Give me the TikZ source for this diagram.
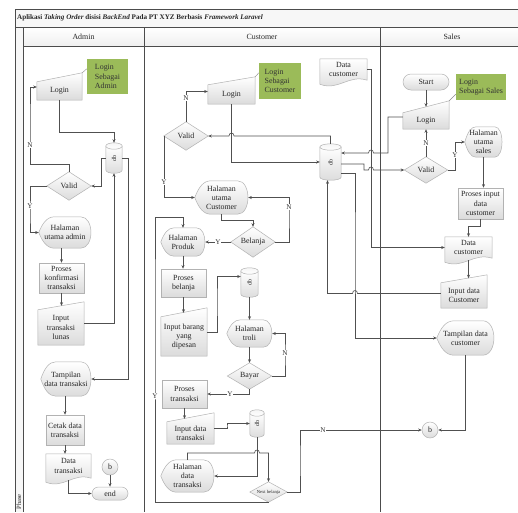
\documentclass[tikz,border=0pt]{standalone}
\usepackage{fontspec}
\usepackage{graphicx}
\setmainfont{Liberation Serif}
\usetikzlibrary{arrows.meta,calc}
\definecolor{notegreen}{HTML}{9BBB59}
\definecolor{linegray}{HTML}{505050}
\pgfdeclarelayer{lanes}
\pgfdeclarelayer{shapes}
\pgfsetlayers{lanes,shapes,main}

\newcommand\dbfont{\fontsize{6}{6}\selectfont}

% flowchart outlines drawn around an already placed (invisible) node
\newcommand\mkmanual[2]{%
  \path[shp] (#1.south west) -- (#1.north west) -- ($(#1.north east)+(0,-#2)$) -- (#1.south east) -- cycle;}
\newcommand\mkdiamond[1]{%
  \path[shp] (#1.west) -- (#1.north) -- (#1.east) -- (#1.south) -- cycle;}
\newcommand\mkdisplay[1]{%
  \path[shp] let \p1=(#1.north west), \p2=(#1.south east), \n1={\x2-\x1}, \n2={\y1-\y2} in
    (\x1,{0.5*(\y1+\y2)})
    .. controls ({\x1+0.07*\n1},{\y1-0.2*\n2}) and ({\x1+0.16*\n1},\y1) .. ({\x1+0.3*\n1},\y1)
    -- ({\x2-0.2*\n1},\y1)
    .. controls ({\x2+0.06*\n1},\y1) and ({\x2+0.06*\n1},\y2) .. ({\x2-0.2*\n1},\y2)
    -- ({\x1+0.3*\n1},\y2)
    .. controls ({\x1+0.16*\n1},\y2) and ({\x1+0.07*\n1},{\y2+0.2*\n2}) .. (\x1,{0.5*(\y1+\y2)})
    -- cycle;}
\newcommand\mkdoc[1]{%
  \path[shp] let \p1=(#1.north west), \p2=(#1.south east), \n1={\x2-\x1} in
    (\x1,\y1) -- (\x2,\y1) -- (\x2,\y2)
    .. controls ({\x2-0.4*\n1},{\y2+6}) and ({\x1+0.4*\n1},{\y2-11}) .. (\x1,{\y2-4})
    -- cycle;}
\newcommand\mkdb[1]{%
  \path[shp] let \p1=(#1.north west), \p2=(#1.south east) in
    (\x1,{\y1-3.2}) -- (\x1,{\y2+3.2})
    .. controls (\x1,{\y2-1.07}) and (\x2,{\y2-1.07}) .. (\x2,{\y2+3.2})
    -- (\x2,{\y1-3.2}) -- cycle;
  \path[shp, top color=black!4, bottom color=white] let \p1=(#1.north west), \p2=(#1.south east) in
    ({0.5*(\x1+\x2)},{\y1-3.2}) ellipse [x radius={0.5*(\x2-\x1)}, y radius=3.2pt];}

\begin{document}
\begin{tikzpicture}[x=1pt,y=-1pt,
  lane/.style={draw=black!70, line width=0.65pt},
  shp/.style={draw=black!30, line width=0.5pt, top color=white, bottom color=black!14},
  txt/.style={font=\fontsize{7.9}{9.2}\selectfont, text=black!85, align=center, inner sep=0pt},
  sz/.style 2 args={minimum width=#1pt, minimum height=#2pt},
  plain/.style={txt, rectangle, draw=none},
  rectbox/.style={txt, rectangle, shp},
  termbox/.style={txt, rectangle, shp, rounded corners=6.5pt},
  circbox/.style={txt, circle, shp, minimum size=16pt},
  note/.style={txt, rectangle, fill=notegreen, align=left, text=black!80},
  arr/.style={draw=linegray, line width=0.6pt, -{Stealth[length=3.6pt,width=3pt]}},
  link/.style={draw=black!45, line width=0.4pt},
  lbl/.style={font=\fontsize{7.2}{8}\selectfont, fill=white, inner sep=0.6pt, text=black!80},
  hdr/.style={font=\fontsize{7.9}{9}\selectfont, text=black!85, inner sep=0pt}
]
\useasboundingbox (0,0) rectangle (518,512);

% ---------- swimlane frame ----------
\begin{pgfonlayer}{lanes}
  \path[fill=white] (0,0) rectangle (518,512);
  \path[fill=black!3] (15,9) rectangle (518,27);
  \path[top color=white, bottom color=black!6] (23,27) rectangle (518,46);
  \path[fill=black!3] (15,27) rectangle (23,512);
  \draw[lane] (518,9) -- (15,9) -- (15,512);
  \draw[lane] (15,27) -- (518,27);
  \draw[lane] (23,46) -- (518,46);
  \draw[lane] (23,27) -- (23,512);
  \draw[lane] (144,27) -- (144,512);
  \draw[lane] (380,27) -- (380,512);
  \node[hdr, anchor=west, font=\bfseries\fontsize{7.1}{9}\selectfont] (title) at (17,18)
    {Aplikasi \textit{Taking Order} disisi \textit{BackEnd} Pada PT XYZ Berbasis \textit{Framework Laravel}};
  \node[hdr] (hAdmin) at (83.5,36.5) {Admin};
  \node[hdr] (hCust) at (262,36.5) {Customer};
  \node[hdr] (hSales) at (452,36.5) {Sales};
  \node[hdr, rotate=90, font=\fontsize{6.5}{7}\selectfont] (phase) at (19,502) {Phase};
\end{pgfonlayer}

% ---------- Admin ----------
\node[note, sz={41}{35}] (gA) at (107.5,76.5) {Login\\Sebagai\\Admin};
\node[plain, sz={45}{18}] (loginA) at (59.5,91) {Login};
\node[plain, sz={16}{30}] (dbA) at (114,158) {\rotatebox{90}{\dbfont db}};
\node[plain, sz={44}{28}] (validA) at (69,186) {Valid};
\node[plain, sz={52}{31}] (hua) at (65,232.5) {Halaman\\utama admin};
\node[rectbox, sz={45}{30}] (pkt) at (61.5,278) {Proses\\konfirmasi\\transaksi};
\node[plain, sz={46}{35}] (itl) at (61,327.5) {Input\\transaksi\\lunas};
\node[plain, sz={50}{34}] (tdt) at (66,379) {Tampilan\\data transaksi};
\node[rectbox, sz={38}{30}] (cdt) at (65,430) {Cetak data\\transaksi};
\node[plain, sz={45}{24}] (dt) at (68.5,466) {Data\\transaksi};
\node[circbox] (bA) at (110,467) {b};
\node[termbox, sz={36}{13}] (endA) at (110,493.5) {end};

% ---------- Customer ----------
\node[note, sz={42}{36}] (gC) at (280,81) {Login\\Sebagai\\Customer};
\node[plain, sz={47}{19}] (loginC) at (231.5,94.5) {Login};
\node[plain, sz={47}{21}] (dcT) at (343.5,69.5) {Data\\customer};
\node[plain, sz={44}{28}] (validC) at (186,136) {Valid};
\node[plain, sz={21}{36}] (dbC) at (330.5,162) {\rotatebox{90}{\dbfont db}};
\node[plain, sz={53}{33}] (huc) at (221.5,197.5) {Halaman\\utama\\Customer};
\node[plain, sz={44}{30}] (belanja) at (253,242) {Belanja};
\node[plain, sz={44}{28}] (hp) at (183,242) {Halaman\\Produk};
\node[rectbox, sz={45}{28}] (pb) at (183.5,283) {Proses\\belanja};
\node[plain, sz={46}{39}] (ib) at (184,336.5) {Input barang\\yang\\dipesan};
\node[plain, sz={17}{29}] (db2) at (249.5,282.5) {\rotatebox{90}{\dbfont db}};
\node[plain, sz={45}{27}] (ht) at (249.5,333.5) {Halaman\\troli};
\node[plain, sz={44}{26}] (bayar) at (249.5,376) {Bayar};
\node[rectbox, sz={45}{28}] (pt) at (184.5,394) {Proses\\transaksi};
\node[plain, sz={47}{22}] (idt) at (190.5,433) {Input data\\transaksi};
\node[plain, sz={14}{27}] (db3) at (257,423.5) {\rotatebox{90}{\dbfont db}};
\node[plain, sz={53}{32}] (hdt) at (187.5,476) {Halaman\\data\\transaksi};
\node[plain, sz={37}{20}, font=\fontsize{4.6}{5}\selectfont] (nb) at (268.5,492) {Next belanja};

% ---------- Sales ----------
\node[note, sz={50}{26}] (gS) at (481,87) {Login\\Sebagai Sales};
\node[termbox, sz={46}{16}, rounded corners=8pt] (start) at (426,82) {Start};
\node[plain, sz={46}{16}] (loginS) at (426,121) {Login};
\node[plain, sz={43}{26}] (validS) at (426,170) {Valid};
\node[plain, sz={37}{30}] (hus) at (483.5,142) {Halaman\\utama\\sales};
\node[rectbox, sz={45}{31}] (pic) at (480.5,203.5) {Proses input\\data\\customer};
\node[plain, sz={47}{21}] (dcS) at (468.5,247.5) {Data\\customer};
\node[plain, sz={46}{25}] (ic) at (464,295.5) {Input data\\Customer};
\node[plain, sz={57}{34}] (tdc) at (465.5,338) {Tampilan data\\customer};
\node[circbox] (bS) at (430,430) {b};

% ---------- symbol outlines ----------
\begin{pgfonlayer}{shapes}
  \mkmanual{loginA}{9}  \mkmanual{itl}{8}  \mkmanual{loginC}{8}
  \mkmanual{ib}{9}      \mkmanual{idt}{9}  \mkmanual{loginS}{12}
  \mkmanual{ic}{8}
  \mkdiamond{validA} \mkdiamond{validC} \mkdiamond{belanja}
  \mkdiamond{bayar}  \mkdiamond{nb}     \mkdiamond{validS}
  \mkdisplay{hua} \mkdisplay{tdt} \mkdisplay{huc} \mkdisplay{hp}
  \mkdisplay{ht}  \mkdisplay{hdt} \mkdisplay{hus} \mkdisplay{tdc}
  \mkdoc{dt} \mkdoc{dcT} \mkdoc{dcS}
  \mkdb{dbA} \mkdb{dbC} \mkdb{db2} \mkdb{db3}
  % annotation links of the login notes
  \draw[link] ($(loginA.north east)+(0,-9)$) -- ($(gA.north west)+(0,10)$);
  \draw[link] ($(loginC.north east)+(0,-8)$) -- ($(gC.north west)+(0,10)$);
  \draw[link] ($(loginS.north east)+(0,-12)$) -- ($(gS.south west)+(0,-6)$);
\end{pgfonlayer}

% ---------- Admin flow ----------
\draw[arr] (loginA.south) |- ($(dbA.north)+(0,-11)$) -- (dbA.north);
\draw[arr] (dbA.west) -- ++(-5,0) |- (validA.east);
\draw[arr] (validA.north) -- ++(0,-8) -| (30,120) |- ($(loginA.west)+(0,-4)$);
\draw[arr] (validA.west) -| (30,215) |- (hua.west);
\draw[arr] (hua.south -| pkt.north) -- (pkt.north);
\draw[arr] (pkt.south) -- ($(pkt.south |- itl.north)+(0,-4)$);
\draw[arr] ($(itl.east)+(0,-4)$) -| (dbA.south);
\draw[arr] (dbA.east) -- ++(6,0) |- (tdt.east);
\draw[arr] (tdt.south -| cdt.north) -- (cdt.north);
\draw[arr] (cdt.south) -- (cdt.south |- dt.north);
\draw[arr] ($(dt.south)+(0,2)$) |- (endA.west);
\draw[arr] (bA.south) -- (endA.north);
\node[lbl] (nA) at (30,145) {N};
\node[lbl] (yA) at (30,206) {Y};

% ---------- Customer flow ----------
\draw[arr] (validC.north) |- ($(loginC.west)+(0,-3)$);
\draw[arr] (loginC.south) |- (dbC.west);
\draw[arr] (dbC.north) |- (234,136) .. controls (234,132) and (229,132) .. (229,136) -- (validC.east);
\draw[arr] (dcT.east) -- ++(4,0) |- (dcS.west);
\draw[arr] ($(loginS.west)+(0,-4)$) -| (388,140) |- (373.5,153)
  .. controls (373.5,149) and (368.5,149) .. (368.5,153) -- ($(dbC.east)+(0,-9)$);
\draw[arr] ($(dbC.east)+(0,2)$) -- (364,164) |- (368.5,170)
  .. controls (368.5,166) and (373.5,166) .. (373.5,170) -- (validS.west);
\draw[arr] ($(dbC.east)+(0,11)$) -| (355,250) |- (tdc.west);
\draw[arr] ($(ic.west)+(0,-2)$) -- (357.5,293.5) .. controls (357.5,289.5) and (352.5,289.5) .. (352.5,293.5)
  -| ($(dbC.south)+(-3,0)$);
\draw[arr] (validC.west) |- (huc.west);
\draw[arr] (huc.south) -- ++(0,6) -| (belanja.north);
\draw[arr] (belanja.east) -| (289,215) |- (huc.east);
\draw[arr] (belanja.west) -- (hp.east);
\draw[arr] (hp.south) -- (hp.south |- pb.north);
\draw[arr] (pb.south) -- ($(pb.south |- ib.north)+(0,-4)$);
\draw[arr] ($(ib.east)+(0,-4)$) -| (217,300) |- ($(db2.west)+(0,-6)$);
\draw[arr] (db2.south) -- (ht.north);
\draw[arr] (ht.south) -- (bayar.north);
\draw[arr] (bayar.east) -| (285,355) |- (ht.east);
\draw[arr] (bayar.south) |- (pt.east);
\draw[arr] (pt.south) -- ($(pt.south |- idt.north)+(0,-3)$);
\draw[arr] ($(idt.east)+(0,-5)$) -| (227,426) |- (db3.west);
\draw[arr] (db3.south) |- (hdt.east);
\draw[arr] (hdt.north) |- (254.5,453) .. controls (254.5,449) and (259.5,449) .. (259.5,453) -| (nb.north);
\draw[arr] (nb.south) -| (155,300) |- ($(hp.north)+(0,-11)$) -- (hp.north);
\draw[arr] (nb.east) -| (300,460) |- (bS.west);
\node[lbl] (nC) at (186,98) {N};
\node[lbl] (yC) at (164,182) {Y};
\node[lbl] (nBel) at (289,207) {N};
\node[lbl] (yBel) at (218,242) {Y};
\node[lbl] (nBay) at (285,353) {N};
\node[lbl] (yBay) at (230,394) {Y};
\node[lbl] (yNb) at (155,396) {Y};
\node[lbl] (nNb) at (323,430) {N};

% ---------- Sales flow ----------
\draw[arr] (start.south) -- ($(start.south |- loginS.north)+(0,-6)$);
\draw[arr] (validS.north) -- (validS.north |- loginS.south);
\draw[arr] (validS.east) -| (455,160) |- (hus.west);
\draw[arr] (hus.south) -- (hus.south |- pic.north);
\draw[arr] (pic.south) -- ++(0,7) -| (dcS.north);
\draw[arr] ($(dcS.south)+(0,2)$) -- ($(dcS.south |- ic.north)+(0,-4.5)$);
\draw[arr] (tdc.south) |- (bS.east);
\node[lbl] (nS) at (426,143) {N};
\node[lbl] (yS) at (455,155) {Y};
\end{tikzpicture}
\end{document}
